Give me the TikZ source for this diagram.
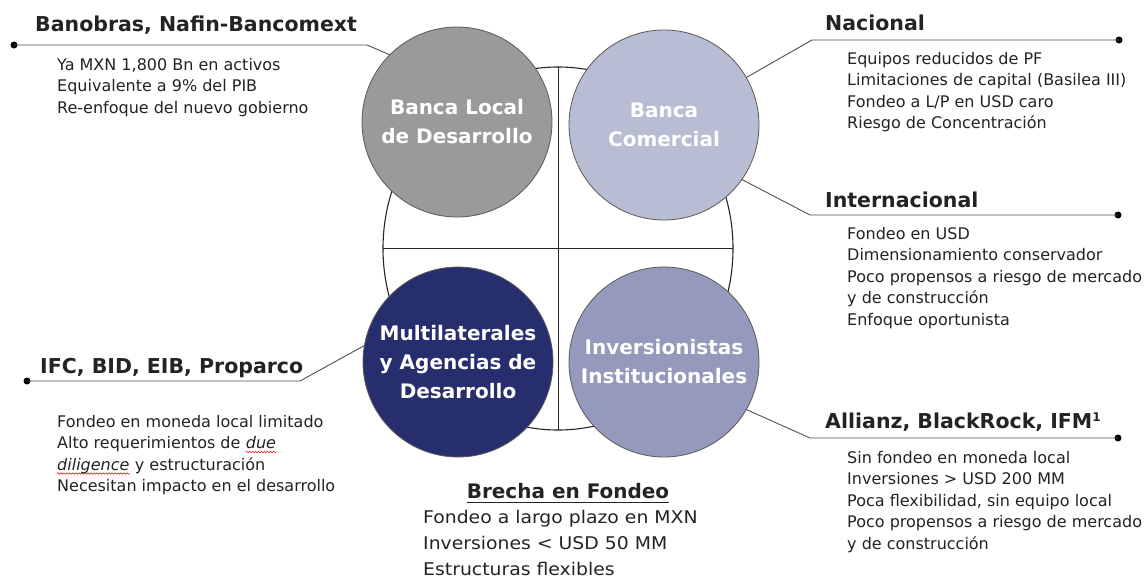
\documentclass[tikz,border=0pt]{standalone}
\usepackage{fontspec}
\setmainfont{DejaVu Sans}
\newfontfamily\widefont{DejaVu Sans}[FakeStretch=1.075]
\usetikzlibrary{shapes.geometric,decorations.pathmorphing}
\definecolor{cgray}{RGB}{154,154,154}
\definecolor{clight}{RGB}{185,189,212}
\definecolor{cnavy}{RGB}{38,46,110}
\definecolor{cmid}{RGB}{149,153,187}
\definecolor{ctext}{RGB}{35,35,35}
\definecolor{cline}{RGB}{80,80,80}
\newcommand\txtlines[1]{\begin{tabular}[t]{@{}l@{}}#1\end{tabular}}
\begin{document}
\begin{tikzpicture}[x=1pt,y=-1pt,
  bubble/.style={circle, draw=black!65, line width=0.8pt, minimum size=190pt, inner sep=0pt, outer sep=0pt, text=white, align=center, font=\fontsize{20}{29}\selectfont\bfseries},
  head/.style={anchor=base west, inner sep=0pt, text=ctext, font=\fontsize{20.5}{24}\selectfont\bfseries},
  body/.style={anchor=base west, inner sep=0pt, text=ctext, font=\fontsize{16}{21.5}\selectfont},
  gapbody/.style={anchor=base west, inner sep=0pt, text=ctext, font=\widefont\fontsize{17.5}{26}\selectfont},
  leader/.style={draw=cline, line width=0.9pt},
  enddot/.style={circle, fill=black, inner sep=0pt, minimum size=7pt},
  spell/.style={draw=red, line width=0.5pt, decorate, decoration={snake, amplitude=0.8pt, segment length=3pt}}
]
\useasboundingbox (0,0) rectangle (1144,581);
\fill[white] (0,0) rectangle (1144,581);

% ring and cross
\node[ellipse, draw=black!85, line width=1.1pt, minimum width=350pt, minimum height=363pt, inner sep=0pt, outer sep=0pt] (ring) at (558,248.5) {};
\draw[black!85, line width=0.9pt] (ring.north) -- (ring.south);
\draw[black!85, line width=0.9pt] (ring.west) -- (ring.east);

% bubbles
\node[bubble, fill=cgray] (blb) at (457,122) {Banca Local\\de Desarrollo};
\node[bubble, fill=clight] (bc) at (664,125) {Banca\\Comercial};
\node[bubble, fill=cnavy] (mul) at (458,362) {Multilaterales\\y Agencias de\\Desarrollo};
\node[bubble, fill=cmid] (inv) at (664,362) {Inversionistas\\Institucionales};

% leader coordinates
\coordinate (tlbend) at (367,45);
\node[enddot] (tldot) at (14,45) {};
\coordinate (trbend) at (812,40);
\node[enddot] (trdot) at (1119,40) {};
\coordinate (r2bend) at (810,215);
\node[enddot] (r2dot) at (1118,215) {};
\coordinate (blbend) at (300,381);
\node[enddot] (bldot) at (27,381) {};
\coordinate (brbend) at (810,438);
\node[enddot] (brdot) at (1118,438) {};

\draw[leader] (blb.135) -- (tlbend) -- (tldot.center);
\draw[leader] (bc.30) -- (trbend) -- (trdot.center);
\draw[leader] (bc.-35) -- (r2bend) -- (r2dot.center);
\draw[leader] (mul.170) -- (blbend) -- (bldot.center);
\draw[leader] (inv.-30) -- (brbend) -- (brdot.center);

% texts
\node[head] (tlhead) at (35,31) {Banobras, Nafin-Bancomext};
\node[body] (tlbody) at (57,70) {\txtlines{Ya MXN 1,800 Bn en activos\\Equivalente a 9\% del PIB\\Re-enfoque del nuevo gobierno}};

\node[head] (trhead) at (825,30) {Nacional};
\node[body] (trbody) at (847,64) {\txtlines{Equipos reducidos de PF\\Limitaciones de capital (Basilea III)\\Fondeo a L/P en USD caro\\Riesgo de Concentración}};

\node[head] (r2head) at (825,207) {Internacional};
\node[body] (r2body) at (847,239) {\txtlines{Fondeo en USD\\Dimensionamiento conservador\\Poco propensos a riesgo de mercado\\y de construcción\\Enfoque oportunista}};

\node[head] (blhead) at (40,373) {IFC, BID, EIB, Proparco};
\node[body] (bl1) at (57,427) {Fondeo en moneda local limitado};
\node[body] (bl2) at (57,448.5) {Alto requerimientos de};
\node[body] (bldue) at ([xshift=5pt]bl2.base east) {\textit{due}};
\node[body] (bldil) at (57,470) {\textit{diligence}};
\node[body] (bl3) at ([xshift=5pt]bldil.base east) {y estructuración};
\node[body] (bl4) at (57,491.5) {Necesitan impacto en el desarrollo};
\draw[spell] ([yshift=-3.5pt]bldue.base west) -- ([yshift=-3.5pt]bldue.base east);
\draw[spell] ([yshift=-3.5pt]bldil.base west) -- ([yshift=-3.5pt]bldil.base east);

\node[head] (brhead) at (825,428) {Allianz, BlackRock, IFM\raisebox{6.5pt}{\fontsize{12}{12}\selectfont 1}};
\node[body] (brbody) at (847,463) {\txtlines{Sin fondeo en moneda local\\Inversiones > USD 200 MM\\Poca flexibilidad, sin equipo local\\Poco propensos a riesgo de mercado\\y de construcción}};

\node[anchor=base, inner sep=0pt, text=ctext, font=\fontsize{20}{24}\selectfont\bfseries] (gaphead) at (568,498) {Brecha en Fondeo};
\draw[ctext, line width=1pt] ([yshift=-4.5pt]gaphead.base west) -- ([yshift=-4.5pt]gaphead.base east);
\node[gapbody] (gapbody) at (423,523) {\txtlines{Fondeo a largo plazo en MXN\\Inversiones < USD 50 MM\\Estructuras flexibles}};
\end{tikzpicture}
\end{document}
